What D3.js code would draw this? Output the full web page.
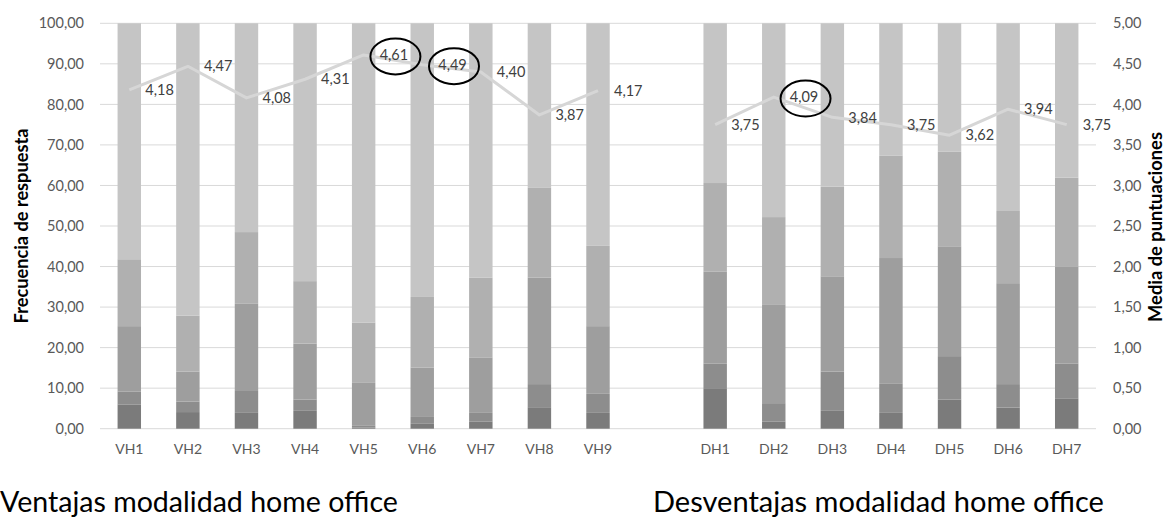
<!DOCTYPE html>
<html>
<head>
<meta charset="utf-8">
<script src="https://cdn.jsdelivr.net/npm/d3@7"></script>
<style>
  html, body { margin: 0; padding: 0; background: #fff; }
  svg { display: block; font-family: Lato, "Open Sans", sans-serif; }
</style>
</head>
<body>
<svg id="chart" width="1169" height="520"></svg>
<script>
// Items: advantages (VH) and disadvantages (DH) of home office
const vhCategories = ["VH1", "VH2", "VH3", "VH4", "VH5", "VH6", "VH7", "VH8", "VH9"];
const dhCategories = ["DH1", "DH2", "DH3", "DH4", "DH5", "DH6", "DH7"];

// Response frequency (%) per Likert level 1..5, VH items then DH items
const level1 = [6.0, 4.1, 3.9, 4.4, 0.3, 1.2, 1.8, 5.3, 3.9,   9.8, 1.8, 4.4, 3.9, 7.2, 5.2, 7.5];
const level2 = [3.2, 2.6, 5.4, 2.8, 0.4, 1.7, 2.1, 5.7, 4.7,   6.3, 4.5, 9.7, 7.3, 10.7, 5.8, 8.6];
const level3 = [16.1, 7.4, 21.5, 13.8, 10.6, 12.2, 13.7, 26.3, 16.7,   22.6, 24.4, 23.5, 30.9, 27.1, 24.9, 23.8];
const level4 = [16.5, 13.8, 17.7, 15.4, 14.9, 17.4, 19.7, 22.1, 19.8,   21.9, 21.5, 22.1, 25.3, 23.3, 17.8, 22.0];
const level5 = [58.2, 72.1, 51.5, 63.6, 73.8, 67.5, 62.7, 40.6, 54.9,   39.4, 47.8, 40.3, 32.6, 31.7, 46.3, 38.1];

// Mean score per item
const vhMeans = [4.18, 4.47, 4.08, 4.31, 4.61, 4.49, 4.40, 3.87, 4.17];
const dhMeans = [3.75, 4.09, 3.84, 3.75, 3.62, 3.94, 3.75];

// Items whose mean is circled
const highlighted = ["VH5", "VH6", "DH2"];

const leftTicks = [0, 10, 20, 30, 40, 50, 60, 70, 80, 90, 100];
const rightTicks = [0, 0.5, 1, 1.5, 2, 2.5, 3, 3.5, 4, 4.5, 5];

const groupTitles = ["Ventajas modalidad home office", "Desventajas modalidad home office"];
const leftTitle = "Frecuencia de respuesta";
const rightTitle = "Media de puntuaciones";

const GAP = "__gap__";
const allCats = [...vhCategories, ...dhCategories];
const domain = [...vhCategories, GAP, ...dhCategories];
const levels = [level1, level2, level3, level4, level5];
const levelColors = ["#7b7b7b", "#8d8d8d", "#9e9e9e", "#b0b0b0", "#c5c5c5"];
const fmt = v => d3.format(".2f")(v).replace(".", ",");

const svg = d3.select("#chart");
const plot = { left: 100, right: 1096, top: 23.3, bottom: 428.7 };

const x = d3.scaleBand().domain(domain).range([plot.left, plot.right])
  .paddingInner(0.6).paddingOuter(0.3);
const y = d3.scaleLinear().domain([0, 100]).range([plot.bottom, plot.top]);
const y2 = d3.scaleLinear().domain([0, 5]).range([plot.bottom, plot.top]);

// Fit a text element's font size so it spans a given length
function fitLength(sel, base, target) {
  sel.style("font-size", base + "px");
  const w = sel.node().getComputedTextLength();
  sel.style("font-size", (base * target / w) + "px");
}

// Gridlines
svg.append("g").selectAll("line").data(leftTicks).join("line")
  .attr("x1", plot.left).attr("x2", plot.right)
  .attr("y1", d => y(d)).attr("y2", d => y(d))
  .attr("stroke", "#d9d9d9").attr("stroke-width", 1);

// Left axis
const leftAxis = svg.append("g").attr("transform", `translate(${plot.left - 16},0)`)
  .call(d3.axisLeft(y).tickValues(leftTicks).tickFormat(fmt).tickSize(0).tickPadding(0));
leftAxis.select(".domain").remove();
leftAxis.selectAll("text").attr("fill", "#595959").style("font-size", "14.5px")
  .style("font-family", "Lato, sans-serif");

// Right axis
const rightAxis = svg.append("g").attr("transform", `translate(${plot.right + 17},0)`)
  .call(d3.axisRight(y2).tickValues(rightTicks).tickFormat(fmt).tickSize(0).tickPadding(0));
rightAxis.select(".domain").remove();
rightAxis.selectAll("text").attr("fill", "#595959").style("font-size", "14.5px")
  .style("font-family", "Lato, sans-serif");

// Category axis
const bottomAxis = svg.append("g").attr("transform", `translate(0,${plot.bottom + 15})`)
  .call(d3.axisBottom(x).tickFormat(d => d === GAP ? "" : d).tickSize(0).tickPadding(0));
bottomAxis.select(".domain").remove();
bottomAxis.selectAll("text").attr("fill", "#595959").style("font-size", "14px")
  .style("font-family", "Lato, sans-serif");

// Stacked bars
const rows = allCats.map((c, i) => {
  const r = { cat: c };
  levels.forEach((arr, k) => { r["l" + k] = arr[i]; });
  return r;
});
const stack = d3.stack().keys(levels.map((_, k) => "l" + k))(rows);
svg.append("g").selectAll("g").data(stack).join("g")
  .attr("fill", (d, k) => levelColors[k])
  .selectAll("rect").data(d => d).join("rect")
  .attr("x", d => x(d.data.cat))
  .attr("width", x.bandwidth())
  .attr("y", d => y(d[1]))
  .attr("height", d => y(d[0]) - y(d[1]));

// Mean lines (one per group)
const cx = c => x(c) + x.bandwidth() / 2;
const groups = [
  vhCategories.map((c, i) => ({ cat: c, v: vhMeans[i] })),
  dhCategories.map((c, i) => ({ cat: c, v: dhMeans[i] }))
];
const line = d3.line().x(d => cx(d.cat)).y(d => y2(d.v));
svg.append("g").selectAll("path").data(groups).join("path")
  .attr("d", line).attr("fill", "none")
  .attr("stroke", "#d6d6d6").attr("stroke-width", 3).attr("stroke-linejoin", "round");

// Mean labels
const points = groups.flat();
const labels = svg.append("g").selectAll("text").data(points).join("text")
  .attr("x", d => cx(d.cat) + 16)
  .attr("y", d => y2(d.v) + 1.5)
  .attr("dominant-baseline", "middle")
  .attr("fill", "#404040")
  .style("font-size", "14.5px")
  .text(d => fmt(d.v));

// Circles around selected means
labels.filter(d => highlighted.includes(d.cat)).each(function(d) {
  const b = this.getBBox();
  svg.append("ellipse")
    .attr("cx", b.x + b.width / 2 + 1.5)
    .attr("cy", y2(d.v) + 1.5)
    .attr("rx", 25).attr("ry", 18)
    .attr("fill", "none").attr("stroke", "#000").attr("stroke-width", 2);
});

// Axis titles
const lt = svg.append("text")
  .attr("transform", `translate(28,${(plot.top + plot.bottom) / 2}) rotate(-90)`)
  .attr("text-anchor", "middle").attr("font-weight", "bold")
  .attr("fill", "#000").text(leftTitle);
fitLength(lt, 17, 195);
const rt = svg.append("text")
  .attr("transform", `translate(1162,${(plot.top + plot.bottom) / 2 + 1}) rotate(-90)`)
  .attr("text-anchor", "middle").attr("font-weight", "bold")
  .attr("fill", "#000").text(rightTitle);
fitLength(rt, 17, 190);

// Group titles
const titleSpecs = [{ x0: 0, x1: 398 }, { x0: 653, x1: 1104 }];
groupTitles.forEach((t, i) => {
  const el = svg.append("text")
    .attr("x", titleSpecs[i].x0).attr("y", 512)
    .attr("fill", "#000").text(t);
  fitLength(el, 28, titleSpecs[i].x1 - titleSpecs[i].x0);
});
</script>
</body>
</html>
